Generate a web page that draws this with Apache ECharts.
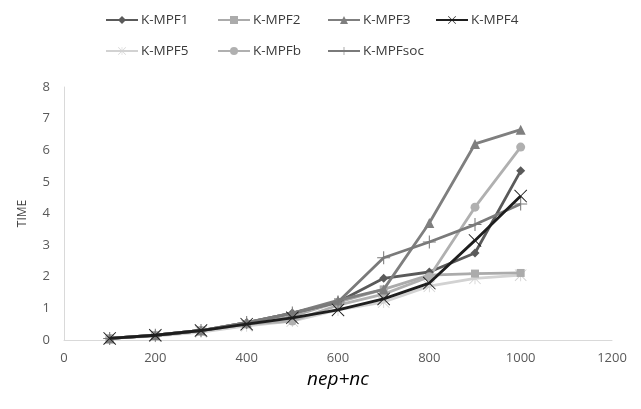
<!DOCTYPE html>
<html><head><meta charset="utf-8">
<script src="https://cdn.jsdelivr.net/npm/echarts@6/dist/echarts.min.js"></script>
<style>html,body{margin:0;padding:0;background:#fff}#c{width:641px;height:409px}</style>
</head><body><div id="c"></div>
<script>
const xValues = [100, 200, 300, 400, 500, 600, 700, 800, 900, 1000];
const seriesNames = ['K-MPF1', 'K-MPF2', 'K-MPF3', 'K-MPF4', 'K-MPF5', 'K-MPFb', 'K-MPFsoc'];
const kmpf1 = [0.05, 0.15, 0.3, 0.55, 0.85, 1.2, 1.95, 2.15, 2.75, 5.35];
const kmpf2 = [0.05, 0.15, 0.3, 0.5, 0.75, 1.2, 1.6, 2.05, 2.1, 2.12];
const kmpf3 = [0.05, 0.15, 0.3, 0.55, 0.85, 1.25, 1.6, 3.7, 6.2, 6.65];
const kmpf4 = [0.05, 0.15, 0.3, 0.5, 0.7, 0.95, 1.3, 1.8, 3.15, 4.55];
const kmpf5 = [0.05, 0.12, 0.25, 0.45, 0.6, 0.95, 1.2, 1.7, 1.95, 2.05];
const kmpfb = [0.05, 0.15, 0.3, 0.5, 0.6, 1.1, 1.45, 2.0, 4.2, 6.1];
const kmpfsoc = [0.05, 0.15, 0.3, 0.55, 0.85, 1.2, 2.6, 3.1, 3.65, 4.3];
const xTicks = [0, 200, 400, 600, 800, 1000, 1200];
const yTicks = [0, 1, 2, 3, 4, 5, 6, 7, 8];

const allData = [kmpf1, kmpf2, kmpf3, kmpf4, kmpf5, kmpfb, kmpfsoc];
const colors = ['#5a5a5a', '#ababab', '#7f7f7f', '#1e1e1e', '#d2d2d2', '#b0b0b0', '#7a7a7a'];
const PLUS = 'path://M9.2,0 H10.8 V9.2 H20 V10.8 H10.8 V20 H9.2 V10.8 H0 V9.2 H9.2 Z';
const XS = 'path://M0,1 L1,0 L10,9 L19,0 L20,1 L11,10 L20,19 L19,20 L10,11 L1,20 L0,19 L9,10 Z';
const STAR = 'path://M9.3,0 H10.7 V20 H9.3 Z M0,1 L1,0 L20,19 L19,20 Z M19,0 L20,1 L1,20 L0,19 Z';
const symbols = ['diamond', 'rect', 'triangle', XS, STAR, 'circle', PLUS];
const sizes = [9, 8, 10, 13, 12, 9, 13];
const font = 'Open Sans';

const series = seriesNames.map((n, i) => ({
  name: n, type: 'line',
  data: xValues.map((x, j) => [x, allData[i][j]]),
  symbol: symbols[i], symbolSize: sizes[i], showSymbol: true,
  lineStyle: { color: colors[i], width: 2.8 },
  itemStyle: { color: colors[i] },
  z: [3, 2, 4, 6, 1, 3, 5][i]
}));

const legendPos = [[100, 8], [212, 8], [322, 8], [430, 8], [100, 39], [212, 39], [322, 39]];
const legends = seriesNames.map((n, i) => ({
  data: [n], left: legendPos[i][0], top: legendPos[i][1],
  itemWidth: 32, itemHeight: 10, itemGap: 4,
  textStyle: { fontFamily: font, fontSize: 13.5, color: '#3a3a3a', padding: [0, 0, 0, -2] }
}));

const chart = echarts.init(document.getElementById('c'), null, { renderer: 'canvas' });
chart.setOption({
  animation: false,
  backgroundColor: '#fff',
  legend: legends,
  grid: { left: 64, right: 29, top: 87, bottom: 69 },
  xAxis: {
    type: 'value', min: 0, max: 1200, interval: 200,
    axisLine: { show: true, lineStyle: { color: '#d9d9d9', width: 1 } },
    axisTick: { show: false }, splitLine: { show: false },
    axisLabel: { fontFamily: font, fontSize: 13, color: '#595959', margin: 12,
      formatter: v => xTicks.includes(v) ? String(v) : '' },
    name: 'nep+nc', nameLocation: 'middle', nameGap: 24,
    nameTextStyle: { fontFamily: font, fontSize: 19, fontStyle: 'italic', color: '#000' }
  },
  yAxis: {
    type: 'value', min: 0, max: 8, interval: 1,
    axisLine: { show: true, lineStyle: { color: '#d9d9d9', width: 1 } },
    axisTick: { show: false }, splitLine: { show: false },
    axisLabel: { fontFamily: font, fontSize: 13, color: '#595959', margin: 14,
      formatter: v => yTicks.includes(v) ? String(v) : '' },
    name: 'TIME', nameLocation: 'middle', nameGap: 35, nameRotate: 90,
    nameTextStyle: { fontFamily: font, fontSize: 12, color: '#404040' }
  },
  series: series
});
</script></body></html>
